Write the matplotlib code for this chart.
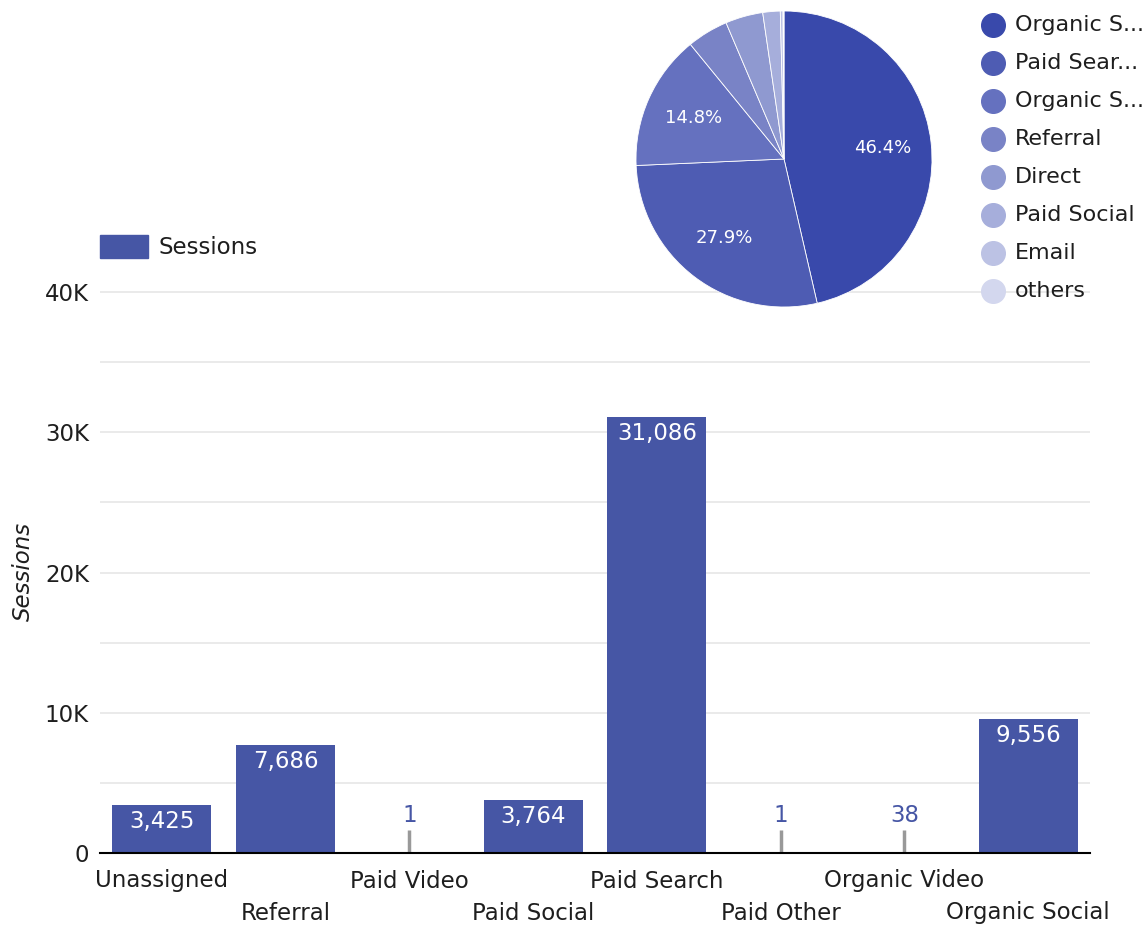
import matplotlib
matplotlib.use("Agg")
import matplotlib.pyplot as plt
from matplotlib.patches import Rectangle
from matplotlib.lines import Line2D
from matplotlib.ticker import FuncFormatter, MultipleLocator
from matplotlib.transforms import blended_transform_factory, offset_copy

plt.rcParams['font.family'] = ['DejaVu Sans']

# ---- data ----
categories = ["Unassigned", "Referral", "Paid Video", "Paid Social",
              "Paid Search", "Paid Other", "Organic Video", "Organic Social"]
sessions = [3425, 7686, 1, 3764, 31086, 1, 38, 9556]

pie_labels = ["Organic S...", "Paid Sear...", "Organic S...", "Referral",
              "Direct", "Paid Social", "Email", "others"]
pie_shares = [46.4, 27.9, 14.8, 4.5, 4.1, 1.9, 0.3, 0.1]
pie_colors = ["#3949ab", "#4e5cb3", "#6571bf", "#7983c6",
              "#8f99d0", "#a6aedb", "#bcc2e4", "#d3d7ee"]

bar_color = "#4656a5"
text_color = "#1e1e1e"
FS = 16.5

W, H = 1146, 927
fig = plt.figure(figsize=(W / 100, H / 100), dpi=100)

def fx(px):
    return px / W

def fy(py):
    return 1 - py / H

# ---- bar chart ----
ymax = 40000
ytop = ymax * 1.004
top_px = 853 - (853 - 292) * (ytop / ymax)
ax = fig.add_axes([fx(100), fy(853), fx(1090) - fx(100), fy(top_px) - fy(853)])
x = list(range(len(categories)))
ax.bar(x, sessions, width=0.8, color=bar_color, zorder=2)
ax.set_xlim(-0.5, len(categories) - 0.5)
ax.set_ylim(0, ytop)
ax.yaxis.set_major_locator(MultipleLocator(10000))
ax.yaxis.set_minor_locator(MultipleLocator(5000))
ax.yaxis.set_major_formatter(FuncFormatter(lambda v, p: "0" if v == 0 else f"{int(v/1000)}K"))
ax.grid(axis='y', which='both', color="#e6e6e6", linewidth=1.2, zorder=0)
ax.grid(axis='x', visible=False)
for s in ["top", "right", "left"]:
    ax.spines[s].set_visible(False)
ax.spines["bottom"].set_color("black")
ax.spines["bottom"].set_linewidth(1.5)
ax.spines["bottom"].set_zorder(3)
ax.tick_params(axis='y', which='both', length=0, pad=8, labelsize=FS, labelcolor=text_color)
ax.set_xticks(x)
ax.set_xticklabels([])
ax.tick_params(axis='x', length=0)
ax.set_ylabel("Sessions", fontsize=FS, style='italic', color=text_color, labelpad=7)

# alternating category labels
btrans = blended_transform_factory(ax.transData, ax.transAxes)
for i, c in enumerate(categories):
    dy = -28 if i % 2 == 0 else -60
    tr = offset_copy(btrans, fig=fig, x=0, y=dy * 72 / 100, units='points')
    ax.text(i, 0, c, transform=tr, ha='center', va='center', fontsize=FS, color=text_color)

small_limit = 1000
for xi, v in zip(x, sessions):
    txt = f"{v:,}"
    if v >= small_limit:
        ax.annotate(txt, (xi, v), xytext=(0, -12), textcoords='offset points',
                    ha='center', va='center', color='white', fontsize=FS, zorder=4)
    else:
        ax.vlines(xi, 0, 1650, color="#999999", linewidth=2.5, zorder=2)
        ax.annotate(txt, (xi, 1650), xytext=(0, 10), textcoords='offset points',
                    ha='center', va='center', color=bar_color, fontsize=FS, zorder=4)

# Sessions legend
fig.add_artist(Rectangle((fx(100), fy(258)), fx(148) - fx(100), fy(235) - fy(258),
                         transform=fig.transFigure, color=bar_color))
fig.text(fx(158), fy(247), "Sessions", fontsize=FS, color=text_color, va='center', ha='left')

# ---- pie ----
cx, cy, r = 784, 159, 148
pax = fig.add_axes([fx(cx - r), fy(cy + r), fx(2 * r), (2 * r) / H])
wedges, texts, autotexts = pax.pie(
    pie_shares, colors=pie_colors, startangle=90, counterclock=False,
    autopct=lambda p: f"{p:.1f}%" if p >= 10 else "", pctdistance=0.67,
    wedgeprops=dict(linewidth=0.6, edgecolor="white"),
    textprops=dict(color='white', fontsize=13))
pax.set_aspect('equal')
pax.set_xlim(-1, 1)
pax.set_ylim(-1, 1)

# pie legend
for i, (lab, col) in enumerate(zip(pie_labels, pie_colors)):
    yy = 25 + 38 * i
    fig.add_artist(Line2D([fx(993)], [fy(yy)], marker='o', markersize=17,
                          markerfacecolor=col, markeredgecolor=col, linestyle='none',
                          transform=fig.transFigure, zorder=5))
    fig.text(fx(1015), fy(yy), lab, fontsize=16, color=text_color, va='center', ha='left', zorder=5)

fig.savefig("out.png", dpi=100, facecolor="white")
